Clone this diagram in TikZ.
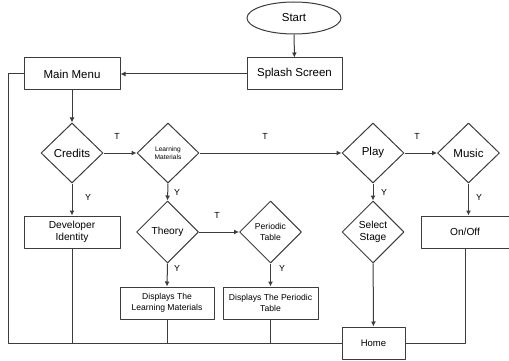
\documentclass[tikz,border=0pt]{standalone}
\usepackage{fontspec}
\setmainfont{Liberation Sans}
\usetikzlibrary{shapes.geometric,arrows.meta}
\definecolor{ink}{RGB}{60,60,60}
\tikzset{box/.style={draw=ink,line width=1pt,rectangle,inner sep=0pt,minimum height=32pt,align=center,font=\fontsize{10.2}{12}\selectfont},
 decision/.style={draw=ink,line width=1pt,diamond,aspect=1,inner sep=0pt,minimum width=62pt,minimum height=62pt,align=center,font=\fontsize{10.2}{12}\selectfont},
 big/.style={font=\fontsize{11.5}{13}\selectfont},
 small/.style={font=\fontsize{8.6}{10.5}\selectfont},
 flow/.style={draw=ink,line width=1pt,-{Latex[length=5pt,width=5pt]}},
 wire/.style={draw=ink,line width=1pt},
 tag/.style={inner sep=0pt,font=\fontsize{8.8}{10}\selectfont},
 every picture/.style={line join=round}}
\begin{document}
\begin{tikzpicture}[x=1pt,y=-1pt]
\useasboundingbox (0,0) rectangle (509,361);
\node[draw=ink,line width=1pt,ellipse,inner sep=0pt,minimum width=94pt,minimum height=32pt,big] (start) at (294,18) {Start};
\node[box,big,minimum width=95pt] (splash) at (294.5,74) {Splash Screen};
\node[box,big,minimum width=96pt] (mm) at (72,74) {Main Menu};
\node[decision,big,minimum height=60pt] (credits) at (72,153) {Credits};
\node[decision,minimum height=60pt,font=\fontsize{6.6}{8}\selectfont] (lm) at (168,153) {Learning\\Materials};
\node[decision,big,minimum height=60pt] (play) at (373,153) {Play};
\node[decision,big,minimum height=60pt] (music) at (468.5,153) {Music};
\node[box,minimum width=96pt] (dev) at (72,232) {Developer\\Identity};
\node[decision] (theory) at (167.5,232) {Theory};
\node[decision,small] (pt) at (270.5,232) {Periodic\\Table};
\node[decision] (select) at (373,232) {Select\\Stage};
\node[box,minimum width=88pt] (onoff) at (465,232) {On/Off};
\node[box,small,minimum width=94pt] (dlm) at (167,303) {Displays The\\Learning Materials};
\node[box,small,minimum width=95pt] (dpt) at (270.5,303) {Displays The Periodic\\Table};
\node[box,minimum width=63pt,font=\fontsize{9.5}{11}\selectfont] (home) at (373.5,343) {Home};
\coordinate (corner) at (8.5,343);
% main flow
\draw[flow] (start) -- (splash);
\draw[flow] (splash) -- (mm);
\draw[flow] (mm) -- (credits);
\draw[flow] (credits) -- (lm);
\draw[flow] (lm) -- (play);
\draw[flow] (play) -- (music);
\draw[flow] (credits) -- (dev);
\draw[flow] (lm.south) -- (theory.north);
\draw[flow] (theory) -- (pt);
\draw[flow] (theory.south) -- (dlm.north);
\draw[flow] (pt.south) -- (dpt.north -| pt.south);
\draw[flow] (play) -- (select);
\draw[flow] (select) -- (home);
\draw[flow] (music.south) -- (onoff.north -| music.south);
% returns to home
\draw[wire] (mm.west) -| (corner) -- (home.west);
\draw[wire] (dev.south) -- (dev.south |- home.west);
\draw[wire] (dlm.south) -- (dlm.south |- home.west);
\draw[wire] (dpt.south) -- (dpt.south |- home.west);
\draw[wire] (onoff.south) |- (home.east);
% branch labels
\node[tag] (t1) at (117,136) {T};
\node[tag] (t2) at (265,136) {T};
\node[tag] (t3) at (417,136) {T};
\node[tag] (t4) at (217,215) {T};
\node[tag] (y1) at (88,197) {Y};
\node[tag] (y2) at (177,192) {Y};
\node[tag] (y3) at (384,192) {Y};
\node[tag] (y4) at (479,197) {Y};
\node[tag] (y5) at (177,268) {Y};
\node[tag] (y6) at (282,268) {Y};
\end{tikzpicture}
\end{document}
